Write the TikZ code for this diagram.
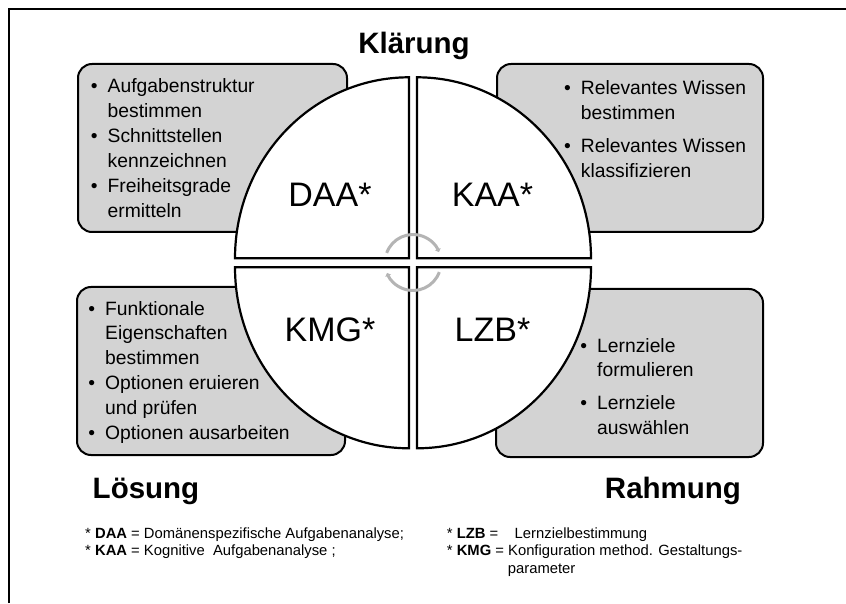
\documentclass[tikz,border=0pt]{standalone}
\usepackage{fontspec}
\setmainfont{Liberation Sans}
\usetikzlibrary{arrows.meta}
\definecolor{boxgray}{HTML}{D3D3D3}
\definecolor{cyclegray}{HTML}{B4B4B4}
\begin{document}
\begin{tikzpicture}[x=1pt,y=1pt,
  infobox/.style={draw=black, line width=2pt, fill=boxgray, rounded corners=14pt},
  quadrant/.style={draw=black, line width=2.2pt, fill=white, line join=miter},
  item/.style={anchor=base west, inner sep=0pt, font=\fontsize{19.3}{25}\selectfont},
  abbr/.style={anchor=base, inner sep=0pt, font=\fontsize{34}{40}\selectfont},
  phase/.style={anchor=base, inner sep=0pt, font=\bfseries\fontsize{29.5}{34}\selectfont},
  legend/.style={anchor=base west, inner sep=0pt, font=\fontsize{14.8}{17}\selectfont},
  cycle/.style={draw=cyclegray, line width=3pt, -{Triangle[length=3pt,width=6pt]}}]
\useasboundingbox (0,0) rectangle (846,603);

% page frame (top and left edges)
\draw[line width=2pt] (9,0) -- (9,594) -- (846,594);

% grey activity boxes
\draw[infobox] (78,371) rectangle (347,539);
\draw[infobox] (497,371) rectangle (763,539);
\draw[infobox] (77,148) rectangle (345,316);
\draw[infobox] (496,146) rectangle (763,314);

% four quarters of the central disc
\draw[quadrant] (409,344.7) -- (235,344.7) arc[start angle=180, end angle=90, x radius=174, y radius=181] -- cycle;
\draw[quadrant] (417,344.7) -- (417,525.7) arc[start angle=90, end angle=0, x radius=174, y radius=181] -- cycle;
\draw[quadrant] (409,335.7) -- (409,154.7) arc[start angle=270, end angle=180, x radius=174, y radius=181] -- cycle;
\draw[quadrant] (417,335.7) -- (591,335.7) arc[start angle=0, end angle=-90, x radius=174, y radius=181] -- cycle;

% cycle arrows in the centre
\coordinate (hub) at (413,340.5);
\draw[cycle] ([shift={(160:28)}]hub) arc[start angle=160, end angle=22, radius=28];
\draw[cycle] ([shift={(-20:28)}]hub) arc[start angle=-20, end angle=-158, radius=28];

% abbreviations in the quarters
\node[abbr] (daa) at (330,396) {DAA*};
\node[abbr] (kaa) at (492.5,396) {KAA*};
\node[abbr] (kmg) at (330,261) {KMG*};
\node[abbr] (lzb) at (492.5,261) {LZB*};

% phase titles
\node[phase] (klaerung) at (414,549) {Klärung};
\node[phase] (loesung) at (146,105) {Lösung};
\node[phase] (rahmung) at (673,105) {Rahmung};

% top left box
\node[item] (tl1) at (107.5,510.7) {\llap{•\hspace{10pt}}Aufgabenstruktur};
\node[item] (tl2) at (107.5,485.7) {bestimmen};
\node[item] (tl3) at (107.5,460.7) {\llap{•\hspace{10pt}}Schnittstellen};
\node[item] (tl4) at (107.5,435.7) {kennzeichnen};
\node[item] (tl5) at (107.5,410.7) {\llap{•\hspace{10pt}}Freiheitsgrade};
\node[item] (tl6) at (107.5,385.7) {ermitteln};

% top right box
\node[item] (tr1) at (580.7,508.7) {\llap{•\hspace{10pt}}Relevantes Wissen};
\node[item] (tr2) at (580.7,483.7) {bestimmen};
\node[item] (tr3) at (580.7,450.3) {\llap{•\hspace{10pt}}Relevantes Wissen};
\node[item] (tr4) at (580.7,425.7) {klassifizieren};

% bottom left box
\node[item] (bl1) at (105,287.5) {\llap{•\hspace{10pt}}Funktionale};
\node[item] (bl2) at (105,263) {Eigenschaften};
\node[item] (bl3) at (105,238.5) {bestimmen};
\node[item] (bl4) at (105,213) {\llap{•\hspace{10pt}}Optionen eruieren};
\node[item] (bl5) at (105,188.5) {und prüfen};
\node[item] (bl6) at (105,163.5) {\llap{•\hspace{10pt}}Optionen ausarbeiten};

% bottom right box
\node[item] (br1) at (597,250.3) {\llap{•\hspace{10pt}}Lernziele};
\node[item] (br2) at (597,226.3) {formulieren};
\node[item] (br3) at (597,193.7) {\llap{•\hspace{10pt}}Lernziele};
\node[item] (br4) at (597,169) {auswählen};

% legend
\node[legend] (lg1) at (85,64.7) {* \textbf{DAA} = Domänenspezifische Aufgabenanalyse;};
\node[legend] (lg2) at (85,48) {* \textbf{KAA} = Kognitive\ \ Aufgabenanalyse ;};
\node[legend] (lg3) at (446.7,64.7) {* \textbf{LZB} =\ \ \ \ Lernzielbestimmung};
\node[legend] (lg4) at (446.7,48) {* \textbf{KMG} = Konfiguration method. Gestaltungs-};
\node[legend] (lg5) at (507.7,29.7) {parameter};
\end{tikzpicture}
\end{document}
